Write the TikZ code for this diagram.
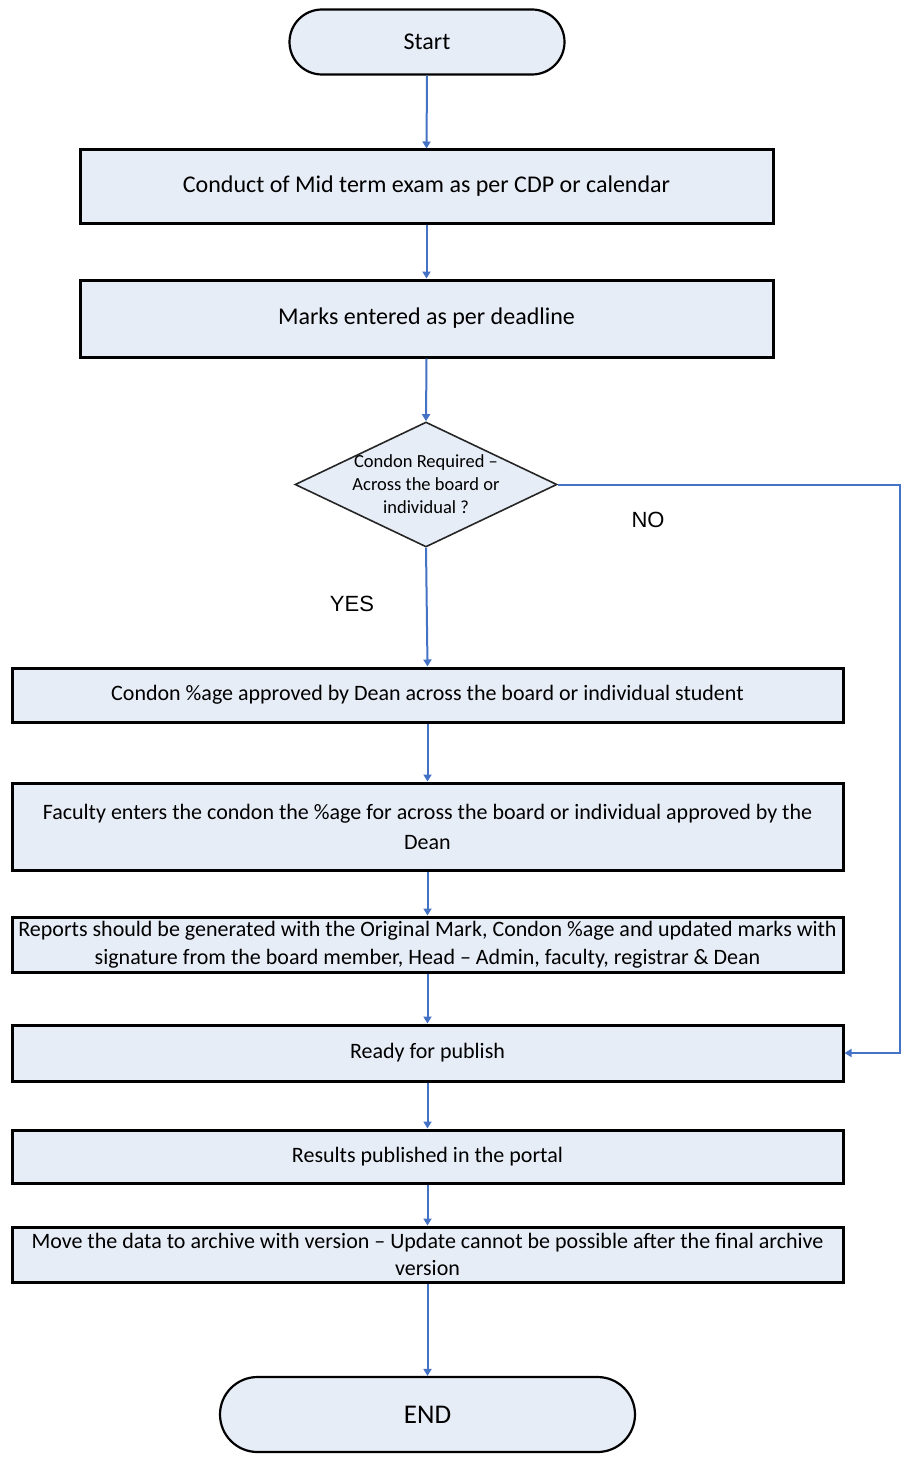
\documentclass[tikz,border=0pt]{standalone}
\usepackage{fontspec}
\setmainfont{Carlito}
\newfontfamily\labelfont{Liberation Sans}
\usetikzlibrary{shapes.geometric,shapes.misc,arrows.meta}
\definecolor{boxfill}{HTML}{E7EDF7}
\definecolor{flowblue}{HTML}{4472C4}
\tikzset{
  stepbox/.style={draw=black, line width=3pt, fill=boxfill, rectangle, inner sep=0pt,
    align=center, font=\fontsize{22}{30}\selectfont},
  bigbox/.style={stepbox, font=\fontsize{24}{28}\selectfont},
  terminal/.style={draw=black, line width=2.2pt, fill=boxfill, rounded rectangle, inner sep=0pt,
    font=\fontsize{24}{28}\selectfont},
  decision/.style={draw=black!85, line width=1.6pt, fill=boxfill, diamond, inner sep=0pt,
    aspect=2.1},
  decisiontext/.style={align=center, inner sep=0pt, font=\fontsize{18.5}{23}\selectfont},
  flow/.style={draw=flowblue, line width=2pt, -{Triangle[length=7pt,width=8pt]}},
  branch/.style={font=\labelfont\fontsize{22}{25}\selectfont},
}
\begin{document}
\begin{tikzpicture}[x=1pt,y=-1pt]
\useasboundingbox (0,0) rectangle (903,1458);

\node[terminal, minimum width=275pt, minimum height=65pt] (start) at (427,42) {Start};
\node[bigbox, minimum width=693pt, minimum height=73pt] (exam) at (426.5,186.5) {Conduct of Mid term exam as per CDP or calendar};
\node[bigbox, minimum width=693pt, minimum height=77pt] (marks) at (426.5,318.5) {Marks entered as per deadline};
\node[decision, minimum width=262pt, minimum height=125pt] (cond) at (426,484.5) {};
\node[decisiontext] (condtext) at (cond.center) {Condon Required --\\Across the board or\\individual ?};
\node[stepbox, minimum width=831pt, minimum height=54pt] (appr) at (427.5,695) {Condon \%age approved by Dean across the board or individual student};
\node[stepbox, minimum width=831pt, minimum height=87pt] (fac) at (427.5,826.5) {Faculty enters the condon the \%age for across the board or individual approved by the\\Dean};
\node[stepbox, minimum width=831pt, minimum height=55pt, font=\fontsize{22}{28}\selectfont] (rep) at (427.5,944.5) {Reports should be generated with the Original Mark, Condon \%age and updated marks with\\signature from the board member, Head -- Admin, faculty, registrar \& Dean};
\node[stepbox, minimum width=831pt, minimum height=56pt] (ready) at (427.5,1053) {Ready for publish};
\node[stepbox, minimum width=831pt, minimum height=53pt] (pub) at (427.5,1156.5) {Results published in the portal};
\node[stepbox, minimum width=831pt, minimum height=55pt, font=\fontsize{22}{27}\selectfont] (arch) at (427.5,1254.5) {Move the data to archive with version -- Update cannot be possible after the final archive\\version};
\node[terminal, minimum width=415pt, minimum height=75pt, font=\fontsize{27}{30}\selectfont] (end) at (427.5,1414.5) {END};

\node[branch] (no) at (648,520) {NO};
\node[branch] (yes) at (352,604) {YES};

\coordinate (turnA) at (900,484.5);
\coordinate (turnB) at (900,1053);

\draw[flow] (start.south) -- (exam.north);
\draw[flow] (exam.south) -- (marks.north);
\draw[flow] (marks.south) -- (cond.north);
\draw[flow] (cond.south) -- (appr.north);
\draw[flow] (appr.south) -- (fac.north);
\draw[flow] (fac.south) -- (rep.north);
\draw[flow] (rep.south) -- (ready.north);
\draw[flow] (ready.south) -- (pub.north);
\draw[flow] (pub.south) -- (arch.north);
\draw[flow] (arch.south) -- (end.north);
\draw[flow] (cond.east) -- (turnA) -- (turnB) -- (ready.east);
\end{tikzpicture}
\end{document}
